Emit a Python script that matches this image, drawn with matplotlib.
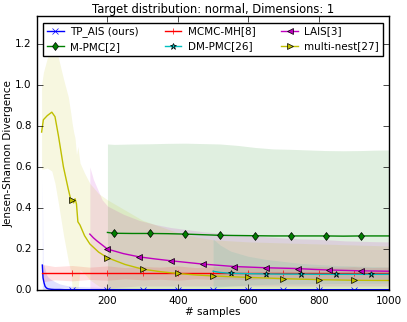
import numpy as np
import matplotlib
matplotlib.use("Agg")
import matplotlib.pyplot as plt

plt.style.use("classic")
plt.rcParams["font.family"] = ["DejaVu Sans"]
plt.rcParams["font.size"] = 7.5
plt.rcParams["savefig.facecolor"] = "white"
plt.rcParams["figure.facecolor"] = "white"

# TP_AIS (ours)
x_tp = [15, 17, 20, 23, 27, 32, 40, 50, 65, 80, 100, 150, 200, 300, 400, 500, 600, 700, 800, 900, 1000]
m_tp = [0.122, 0.06, 0.035, 0.018, 0.01, 0.006, 0.004, 0.003, 0.003, 0.002, 0.002, 0.002, 0.002,
        0.002, 0.002, 0.002, 0.002, 0.002, 0.002, 0.002, 0.002]
hi_tp = [0.55, 0.13, 0.12, 0.1, 0.075, 0.062, 0.052, 0.042, 0.03, 0.024, 0.018, 0.015, 0.012,
         0.01, 0.009, 0.008, 0.008, 0.007, 0.007, 0.007, 0.007]
lo_tp = [0.0] * len(x_tp)

# MCMC-MH[8]
x_mh = [15, 50, 100, 150, 200, 250, 300, 350, 400, 450, 500, 550, 600, 650, 700, 750, 800, 850, 900, 950, 1000]
m_mh = [0.083] * len(x_mh)
hi_mh = [0.125, 0.115, 0.12, 0.112, 0.118, 0.11, 0.115, 0.112, 0.118, 0.11, 0.114, 0.112, 0.116,
         0.11, 0.113, 0.111, 0.115, 0.112, 0.114, 0.11, 0.112]
lo_mh = [0.04, 0.05, 0.045, 0.052, 0.048, 0.055, 0.05, 0.053, 0.048, 0.055, 0.052, 0.054, 0.05,
         0.055, 0.052, 0.054, 0.05, 0.053, 0.052, 0.055, 0.053]

# M-PMC[2]
x_mp = [200, 220, 270, 320, 370, 420, 470, 520, 570, 620, 670, 720, 770, 820, 870, 920, 960, 1000]
m_mp = [0.281, 0.277, 0.276, 0.276, 0.275, 0.273, 0.27, 0.267, 0.266, 0.265, 0.264, 0.264, 0.264,
        0.264, 0.263, 0.264, 0.264, 0.264]
hi_mp = [0.712, 0.71, 0.712, 0.713, 0.715, 0.716, 0.714, 0.712, 0.705, 0.695, 0.688, 0.686, 0.683,
         0.68, 0.679, 0.68, 0.682, 0.683]
lo_mp = [0.0] * len(x_mp)

# DM-PMC[26]
x_dm = [500, 520, 550, 600, 650, 700, 750, 800, 850, 900, 950, 1000]
m_dm = [0.092, 0.086, 0.082, 0.08, 0.079, 0.078, 0.078, 0.077, 0.077, 0.077, 0.077, 0.077]
hi_dm = [0.25, 0.22, 0.19, 0.165, 0.15, 0.14, 0.13, 0.125, 0.12, 0.118, 0.115, 0.113]
lo_dm = [0.01, 0.015, 0.02, 0.025, 0.028, 0.03, 0.03, 0.032, 0.032, 0.033, 0.033, 0.034]

# LAIS[3]
x_la = [150, 160, 170, 185, 200, 245, 290, 335, 380, 425, 470, 515, 560, 605, 650, 695, 740, 785,
        830, 875, 920, 960, 1000]
m_la = [0.273, 0.255, 0.24, 0.22, 0.2, 0.178, 0.162, 0.152, 0.143, 0.135, 0.127, 0.121, 0.115,
        0.112, 0.109, 0.107, 0.105, 0.101, 0.098, 0.096, 0.094, 0.093, 0.092]
hi_la = [0.6, 0.54, 0.5, 0.44, 0.41, 0.37, 0.34, 0.32, 0.305, 0.295, 0.285, 0.278, 0.27, 0.265,
         0.26, 0.255, 0.25, 0.248, 0.245, 0.24, 0.238, 0.236, 0.235]
lo_la = [0.0, 0.0, 0.0, 0.01, 0.01, 0.015, 0.02, 0.02, 0.02, 0.02, 0.02, 0.02, 0.02, 0.02, 0.02,
         0.02, 0.02, 0.02, 0.02, 0.02, 0.02, 0.02, 0.02]

# multi-nest[27]
x_mn = [13, 18, 29, 42, 51, 61, 75, 89, 96, 100, 104, 108, 112, 116, 122, 135, 150, 175, 200, 250,
        300, 350, 400, 450, 500, 600, 700, 800, 900, 1000]
m_mn = [0.77, 0.83, 0.85, 0.867, 0.845, 0.75, 0.6, 0.49, 0.44, 0.44, 0.425, 0.445, 0.42, 0.333,
        0.317, 0.265, 0.225, 0.185, 0.158, 0.125, 0.102, 0.09, 0.081, 0.074, 0.069, 0.062, 0.056,
        0.051, 0.048, 0.047]
hi_mn = [1.0, 1.06, 1.13, 1.18, 1.19, 1.13, 1.03, 0.94, 0.86, 0.81, 0.77, 0.74, 0.66, 0.7, 0.62,
         0.57, 0.52, 0.47, 0.44, 0.39, 0.34, 0.31, 0.28, 0.26, 0.245, 0.235, 0.23, 0.225, 0.22, 0.215]
lo_mn = [0.59, 0.59, 0.595, 0.58, 0.52, 0.42, 0.27, 0.14, 0.09, 0.0, 0.0, 0.0, 0.0, 0.0, 0.1,
         0.08, 0.05, 0.02, 0.0, 0.0, 0.0, 0.0, 0.0, 0.0, 0.0, 0.0, 0.0, 0.0, 0.0, 0.0]

series = [
    ("TP_AIS (ours)", x_tp, m_tp, lo_tp, hi_tp, "b", "x", [100, 200, 300, 400, 500, 600, 700, 800, 900]),
    ("M-PMC[2]", x_mp, m_mp, lo_mp, hi_mp, "g", "d", [220, 320, 420, 520, 620, 720, 820, 920]),
    ("MCMC-MH[8]", x_mh, m_mh, lo_mh, hi_mh, "r", "+", [100, 200, 300, 400, 500, 600, 700, 800, 900]),
    ("DM-PMC[26]", x_dm, m_dm, lo_dm, hi_dm, "c", "*", [550, 650, 750, 850, 950]),
    ("LAIS[3]", x_la, m_la, lo_la, hi_la, "m", "<", [200, 290, 380, 470, 560, 650, 740, 830, 920]),
    ("multi-nest[27]", x_mn, m_mn, lo_mn, hi_mn, "y", ">", [100, 200, 300, 400, 500, 600, 700, 800, 900]),
]

fig = plt.figure(figsize=(4.07, 3.22), dpi=100)
ax = fig.add_axes([0.091, 0.099, 0.865, 0.851])

for label, x, m, lo, hi, col, mk, marks in series:
    x = np.array(x)
    idx = [int(i) for i in np.where(np.isin(x, marks))[0]]
    ax.fill_between(x, lo, hi, color=col, alpha=0.12, linewidth=0)
    ax.plot(x, m, color=col, marker=mk, markevery=idx, markersize=4.5, linewidth=1, label=label)

ax.set_xlim(0, 1000)
ax.set_ylim(0, 1.335)
ax.set_xticks([200, 400, 600, 800, 1000])
ax.set_yticks([0.0, 0.2, 0.4, 0.6, 0.8, 1.0, 1.2])
ax.tick_params(labelsize=7.5)
ax.set_xlabel("# samples", fontsize=7.5, labelpad=1)
ax.set_ylabel("Jensen-Shannon Divergence", fontsize=7.5, labelpad=1)
ax.set_title("Target distribution: normal, Dimensions: 1", fontsize=8.3, pad=2)
ax.legend(loc="upper center", ncol=3, fontsize=7.5, numpoints=1, borderaxespad=0.65,
          columnspacing=2.5, handlelength=1.6, handletextpad=0.6, borderpad=0.35,
          labelspacing=0.45)

fig.savefig("out.png", dpi=100)
